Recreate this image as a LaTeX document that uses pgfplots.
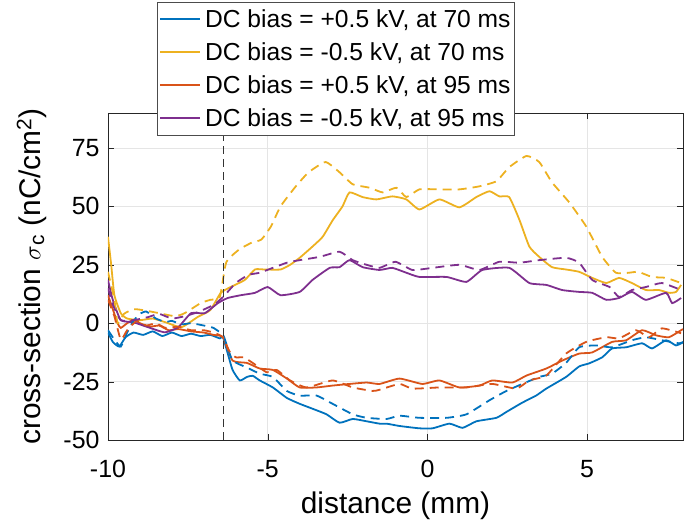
\documentclass[border=0pt]{standalone}
\usepackage{pgfplots}
\pgfplotsset{compat=1.18}
\usepackage{fontspec}
\setmainfont{Liberation Sans}

\definecolor{mblue}{rgb}{0,0.447,0.741}
\definecolor{morange}{rgb}{0.85,0.325,0.098}
\definecolor{myellow}{rgb}{0.929,0.694,0.125}
\definecolor{mpurple}{rgb}{0.494,0.184,0.556}

\begin{document}
\begin{tikzpicture}
\begin{axis}[
    name=ax,
    scale only axis,
    width=575bp, height=327bp,
    xmin=-10, xmax=8,
    ymin=-50, ymax=90,
    xtick={-10,-5,0,5},
    ytick={-50,-25,0,25,50,75},
    tick pos=both,
    tick align=inside,
    major tick length=6bp,
    axis line style={black!85},
    tick style={black!85},
    grid=major,
    grid style={gray!20, line width=0.8pt},
    ticklabel style={font=\fontsize{25}{28}\selectfont},
    yticklabel shift=5bp,
    xticklabel style={yshift=-17bp},
    /pgf/number format/assume math mode=true,
    xlabel={distance (mm)},
    ylabel={cross-section \ensuremath{\sigma}\textsubscript{c} (nC/cm\textsuperscript{2})},
    label style={font=\fontsize{30}{34}\selectfont},
    xlabel style={yshift=-7bp},
    ylabel style={yshift=10bp},
    every axis plot/.append style={line width=1.8pt, smooth, tension=0.3},
    legend style={at={(0.0852,1.339)}, anchor=north west,
        draw=black!70, fill=white, font=\fontsize{24.7}{29}\selectfont,
        inner xsep=2bp, inner ysep=5.5bp, row sep=9.5bp},
    legend cell align=left,
    legend image code/.code={\draw[#1, line width=2pt, line cap=butt] (0bp,0bp) -- (40bp,0bp); \path (42bp,0bp);},
]

% +0.5 kV, 70 ms
\addplot[color=mblue] coordinates {
(-10,-4) (-9.85,-8) (-9.65,-10) (-9.45,-6) (-9.2,-4) (-8.9,-5) (-8.6,-3.5) (-8.3,-5.5)
(-8,-4) (-7.7,-5.5) (-7.4,-4.5) (-7.1,-5.5) (-6.8,-5) (-6.5,-6.5) (-6.4,-6) (-6.25,-13)
(-6.1,-20) (-5.875,-24.5) (-5.65,-23) (-5.47,-22.5) (-5.25,-24.5) (-4.84,-27.5) (-4.4,-32)
(-4,-34.5) (-3.6,-36.6) (-3.16,-39) (-2.75,-42.6) (-2.34,-41) (-1.9,-42) (-1.5,-43)
(-1.28,-43) (-0.875,-44) (-0.25,-45) (0.16,-45) (0.69,-43) (1.1,-44.8) (1.53,-42)
(2.16,-40.5) (2.47,-38) (2.97,-34) (3.4,-31) (3.72,-28) (4.34,-23) (4.75,-18.5)
(5.06,-17.2) (5.47,-14.6) (5.78,-10.8) (6.22,-10.3) (6.72,-8.6) (7.03,-10.8) (7.47,-7.3)
(7.78,-9.5) (8,-8.2)
};
\addlegendentry{DC bias = +0.5 kV, at 70 ms}

% -0.5 kV, 70 ms
\addplot[color=myellow] coordinates {
(-10,37) (-9.9,25) (-9.8,12) (-9.6,4.3) (-9.4,2) (-9.0,1.3) (-8.6,2) (-8.2,0.4)
(-7.7,-1.7) (-7.2,2.6) (-6.8,5.6) (-6.47,13) (-6.16,15.5) (-5.72,18.5) (-5.4,23)
(-5.1,23) (-4.6,23) (-4.3,25) (-4,28) (-3.6,32.8) (-3.28,37) (-2.97,44) (-2.66,50)
(-2.44,56) (-2.03,54) (-1.6,53) (-1.1,54.3) (-0.66,53) (-0.25,48.7) (0.375,53)
(1,49.6) (1.53,54) (1.94,56.5) (2.25,54.3) (2.56,54) (2.875,44.4) (3.19,32.8)
(3.5,28.4) (3.9,24) (4.34,23) (4.75,22) (5.16,19.4) (5.6,17.2) (6,19.4) (6.4,17.2)
(6.84,14.2) (7.25,14.2) (7.56,13) (7.78,13.4) (7.94,16.4)
};
\addlegendentry{DC bias = -0.5 kV, at 70 ms}

% +0.5 kV, 95 ms
\addplot[color=morange] coordinates {
(-10,12) (-9.85,6) (-9.7,0) (-9.6,-2) (-9.4,0) (-9.2,1.5) (-9,0) (-8.7,-1.5) (-8.4,-1)
(-8.1,-3) (-7.8,-2.5) (-7.4,-3.5) (-7,-4) (-6.7,-5) (-6.4,-6) (-6.1,-16) (-5.65,-17)
(-5.25,-19.4) (-4.84,-20) (-4.4,-23.7) (-4,-27.5) (-3.47,-27.5) (-2.97,-26.7)
(-2.44,-26) (-1.9,-25.4) (-1.5,-26) (-0.875,-23.7) (-0.16,-26) (0.375,-24.5) (1,-27.5)
(1.625,-26.7) (2.03,-24.5) (2.66,-25.4) (3.1,-22.4) (3.72,-19.4) (4.22,-16) (4.75,-13)
(5.16,-12.5) (5.78,-8) (6.22,-7.3) (6.72,-3) (7.16,-5.2) (7.56,-6) (7.94,-3) (8,-2.5)
};
\addlegendentry{DC bias = +0.5 kV, at 95 ms}

% -0.5 kV, 95 ms
\addplot[color=mpurple] coordinates {
(-10,18.5) (-9.85,10) (-9.6,1.3) (-9.2,0.4) (-8.75,-1.7) (-8.22,-3.9) (-7.8,-1.7)
(-7.4,4.3) (-6.97,4.3) (-6.56,8.6) (-6.25,10.8) (-5.84,12) (-5.4,13) (-5.0,15.5)
(-4.6,12) (-4,13.4) (-3.6,18.5) (-3.06,23.7) (-2.75,24) (-2.44,27) (-2.03,24)
(-1.5,22.8) (-1.1,23.7) (-0.66,21.6) (-0.25,19.8) (0.6,19.8) (1.22,17.7) (1.72,22.8)
(2.56,23.7) (3.19,17.2) (3.72,16.4) (4.22,14.2) (4.75,13.4) (5.16,13) (5.6,10)
(6,10.8) (6.4,13.4) (6.84,10) (7.47,13) (7.66,8.6) (7.94,10.8)
};
\addlegendentry{DC bias = -0.5 kV, at 95 ms}

% dashed counterparts
\addplot[color=mblue, dash pattern=on 9bp off 6bp, forget plot] coordinates {
(-10,-3) (-9.8,-7) (-9.6,-10) (-9.4,-4) (-9.2,1) (-9,4) (-8.8,5) (-8.5,2) (-8.2,0.5)
(-8,1) (-7.7,-0.5) (-7.4,0) (-7,-1) (-6.7,-2) (-6.4,-5) (-6.3,-8.6) (-6.1,-16)
(-5.65,-19) (-5.25,-21.6) (-4.84,-23) (-4.4,-29) (-4,-31) (-3.47,-31) (-2.97,-34.5)
(-2.34,-39) (-1.9,-40.5) (-1.28,-41) (-0.875,-39.6) (-0.25,-40.5) (0.6,-40.5)
(1.22,-39) (1.94,-33) (2.47,-29) (2.97,-26) (3.5,-23) (3.9,-21.6) (4.34,-17)
(4.75,-10.3) (5.28,-9.5) (5.78,-10.3) (6.4,-7.3) (6.84,-6) (7.34,-7.3) (7.88,-8.6) (8,-8)
};
\addplot[color=myellow, dash pattern=on 9bp off 6bp, forget plot] coordinates {
(-10,22) (-9.8,10) (-9.7,0) (-9.5,4) (-9.2,6) (-8.9,5.6) (-8.4,4.3) (-7.9,3) (-7.6,4.3)
(-7.1,8.6) (-6.8,10) (-6.5,11.2) (-6.3,26) (-5.9,31.5) (-5.5,34.5) (-5.2,35.8)
(-4.9,41.4) (-4.6,50) (-4.12,58.6) (-3.72,64.6) (-3.19,69) (-2.75,64.6) (-2.34,59.5)
(-1.81,58) (-1.4,56) (-0.97,58) (-0.66,54) (-0.25,57.3) (0.375,57.3) (1,57.3)
(1.625,58.6) (2.16,60.8) (2.56,66.8) (3.1,71.6) (3.5,69) (3.9,60.3) (4.44,51.7)
(4.97,41.4) (5.47,28.4) (5.9,21.6) (6.3,21.6) (6.6,22) (7.03,19.8) (7.47,19.4) (7.94,17.2)
};
\addplot[color=morange, dash pattern=on 9bp off 6bp, forget plot] coordinates {
(-10,10) (-9.8,3) (-9.6,-7) (-9.4,-3) (-9.1,1) (-8.8,-1) (-8.5,0) (-8.2,-2) (-7.8,-1.5)
(-7.4,-3) (-7,-3) (-6.7,-4) (-6.4,-6) (-6.2,-12) (-6.0,-14.6) (-5.75,-14.6) (-5.47,-17)
(-5.03,-21) (-4.72,-20) (-4.3,-24.5) (-3.78,-27.5) (-2.97,-24.5) (-2.34,-27.5)
(-1.72,-29) (-1.5,-28.5) (-0.875,-26) (-0.47,-28) (0.375,-27.5) (1.22,-27.5) (2.03,-26)
(2.78,-28) (3.19,-24.5) (3.72,-22.4) (4.34,-13) (4.97,-8) (5.6,-6) (6,-6.5) (6.53,-3)
(6.94,-6) (7.34,-2.2) (7.94,-4.3)
};
\addplot[color=mpurple, dash pattern=on 9bp off 6bp, forget plot] coordinates {
(-10,15) (-9.85,8) (-9.6,1.3) (-9.2,1.3) (-8.75,2.6) (-8.4,4) (-8,2) (-7.6,3) (-7.2,4.7)
(-6.7,7.8) (-6.4,11.2) (-6,17.2) (-5.6,20.7) (-5.25,21.6) (-4.84,23.7) (-4.4,25.9)
(-4,27) (-3.375,28.4) (-2.75,30.6) (-2.34,27) (-1.9,25) (-1.5,23.7) (-1.0,26.3)
(-0.47,22.8) (0.16,23.7) (1,25) (1.625,22.8) (2.25,26.3) (2.875,25.9) (3.5,27)
(4.34,28) (4.75,25.9) (5.16,18.5) (5.7,15.5) (6,11.2) (6.4,14.2) (6.84,15.5)
(7.34,17.2) (7.94,14.2)
};

% boundary marker
\addplot[black!80, line width=1pt, sharp plot, dash pattern=on 8bp off 5bp, forget plot]
  coordinates {(-6.4,-50) (-6.4,90)};

\end{axis}
\pgfresetboundingbox
\path (ax.south west) ++(-108bp,-83bp) rectangle ++(685bp,523bp);
\end{tikzpicture}
\end{document}
